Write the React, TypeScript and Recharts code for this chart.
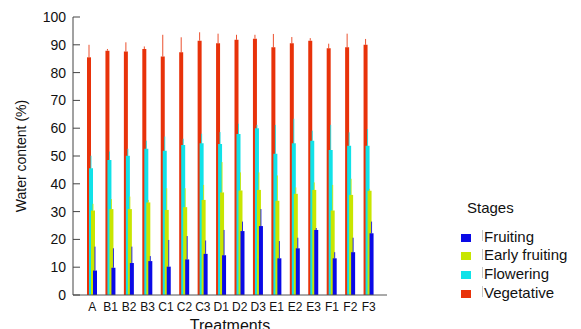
import React from 'react';
import { BarChart, Bar, XAxis, YAxis, ErrorBar, Legend, Label } from 'recharts';

const treatments = ['A', 'B1', 'B2', 'B3', 'C1', 'C2', 'C3', 'D1', 'D2', 'D3', 'E1', 'E2', 'E3', 'F1', 'F2', 'F3'];

// mean water content (%) per stage
const vegetative = [85.5, 87.9, 87.6, 88.5, 85.8, 87.3, 91.5, 90.6, 91.8, 92.2, 89.1, 90.6, 91.5, 88.8, 89.1, 90.0];
const flowering = [45.6, 48.6, 50.1, 52.6, 51.9, 54.0, 54.6, 54.3, 57.9, 60.0, 50.8, 54.6, 55.5, 52.2, 53.7, 53.7];
const earlyFruiting = [30.4, 30.9, 30.9, 33.3, 30.6, 31.6, 34.2, 36.9, 37.6, 37.8, 33.9, 36.4, 37.8, 30.4, 36.0, 37.5];
const fruiting = [8.8, 9.8, 11.5, 12.2, 10.2, 12.8, 14.8, 14.3, 23.0, 24.8, 13.2, 16.8, 23.4, 13.2, 15.4, 22.2];

// upper error (only the top whisker is drawn)
const vegetativeErr = [4.5, 0.6, 3.3, 0.9, 7.8, 5.4, 3.0, 3.4, 1.8, 1.4, 4.8, 2.2, 0.9, 1.6, 4.9, 2.1];
const floweringErr = [4.5, 3.0, 2.5, 2.9, 5.1, 2.2, 3.4, 4.3, 3.7, 1.2, 10.4, 8.8, 3.6, 9.0, 4.8, 6.0];
const earlyFruitingErr = [2.4, 3.6, 4.5, 0.9, 7.8, 6.8, 5.4, 10.9, 6.5, 6.3, 9.1, 2.3, 2.7, 9.2, 5.8, 0.7];
const fruitingErr = [8.6, 7.0, 5.9, 1.8, 9.6, 8.4, 4.8, 9.1, 3.4, 6.1, 6.2, 3.8, 0.7, 2.2, 5.2, 4.2];

const yTicks = [0, 10, 20, 30, 40, 50, 60, 70, 80, 90, 100];

const FONT = '"Liberation Sans", Arial, Helvetica, sans-serif';

const COLORS = {
  fruiting: '#0a0ae6',
  earlyFruiting: '#c8e600',
  flowering: '#10e2e8',
  vegetative: '#e8320a',
};

const legendItems = [
  { label: 'Fruiting', color: COLORS.fruiting },
  { label: 'Early fruiting', color: COLORS.earlyFruiting },
  { label: 'Flowering', color: COLORS.flowering },
  { label: 'Vegetative', color: COLORS.vegetative },
];

const data = treatments.map((t, i) => ({
  treatment: t,
  vegetative: vegetative[i],
  flowering: flowering[i],
  earlyFruiting: earlyFruiting[i],
  fruiting: fruiting[i],
  vegetativeErr: [0, vegetativeErr[i]],
  floweringErr: [0, floweringErr[i]],
  earlyFruitingErr: [0, earlyFruitingErr[i]],
  fruitingErr: [0, fruitingErr[i]],
}));

const StagesLegend = () => (
  <div style={{ position: 'relative', width: 126, height: 110, fontFamily: FONT, fontSize: 15, lineHeight: '15px', color: '#111' }}>
    <div style={{ position: 'absolute', left: 12, top: 5 }}>Stages</div>
    {legendItems.map((item, k) => (
      <React.Fragment key={item.label}>
        <div style={{ position: 'absolute', left: 6, top: 38.7 + k * 18.7, width: 10, height: 8, background: item.color }} />
        <div style={{ position: 'absolute', left: 27, top: 35 + k * 18.7, width: 1, height: 11, background: '#c8c8c8' }} />
        <div style={{ position: 'absolute', left: 29, top: 33.7 + k * 18.7, whiteSpace: 'nowrap' }}>{item.label}</div>
      </React.Fragment>
    ))}
  </div>
);

export default function App() {
  return (
    <div style={{ position: 'absolute', left: 0, top: 0, width: 581, height: 329, background: '#fff', fontFamily: FONT }}>
      <BarChart
        width={581}
        height={329}
        data={data}
        margin={{ top: 17, right: 194, bottom: 4, left: 0 }}
        barSize={4}
        barGap={-2}
      >
        <XAxis
          dataKey="treatment"
          padding={{ left: 10, right: 9 }}
          height={30}
          axisLine={{ stroke: '#555' }}
          tickLine={false}
          tickSize={0}
          tickMargin={7}
          interval={0}
          tick={{ fontSize: 12, fill: '#111', fontFamily: FONT }}
        >
          <Label value="Treatments" position="insideBottom" offset={-6} style={{ fontSize: 16, fill: '#111', fontFamily: FONT }} />
        </XAxis>
        <YAxis
          width={73}
          domain={[0, 100]}
          ticks={yTicks}
          interval={0}
          axisLine={{ stroke: '#444' }}
          tickLine={{ stroke: '#444' }}
          tickSize={-7}
          tickMargin={14}
          tick={{ fontSize: 14, fill: '#111', fontFamily: FONT }}
        >
          <Label
            value="Water content (%)"
            angle={-90}
            position="insideLeft"
            offset={21}
            style={{ fontSize: 14, fill: '#111', fontFamily: FONT, textAnchor: 'middle' }}
          />
        </YAxis>
        <Legend
          layout="vertical"
          align="center"
          verticalAlign="middle"
          content={() => <StagesLegend />}
          wrapperStyle={{ left: 455, top: 195, width: 126, height: 110 }}
        />
        <Bar dataKey="vegetative" name="Vegetative" fill={COLORS.vegetative} isAnimationActive={false}>
          <ErrorBar dataKey="vegetativeErr" width={0} stroke={COLORS.vegetative} strokeOpacity={0.85} strokeWidth={1} isAnimationActive={false} />
        </Bar>
        <Bar dataKey="flowering" name="Flowering" fill={COLORS.flowering} isAnimationActive={false}>
          <ErrorBar dataKey="floweringErr" width={0} stroke={COLORS.flowering} strokeOpacity={0.85} strokeWidth={1} isAnimationActive={false} />
        </Bar>
        <Bar dataKey="earlyFruiting" name="Early fruiting" fill={COLORS.earlyFruiting} isAnimationActive={false}>
          <ErrorBar dataKey="earlyFruitingErr" width={0} stroke={COLORS.earlyFruiting} strokeOpacity={0.85} strokeWidth={1} isAnimationActive={false} />
        </Bar>
        <Bar dataKey="fruiting" name="Fruiting" fill={COLORS.fruiting} isAnimationActive={false}>
          <ErrorBar dataKey="fruitingErr" width={0} stroke={COLORS.fruiting} strokeOpacity={0.85} strokeWidth={1} isAnimationActive={false} />
        </Bar>
      </BarChart>
    </div>
  );
}
